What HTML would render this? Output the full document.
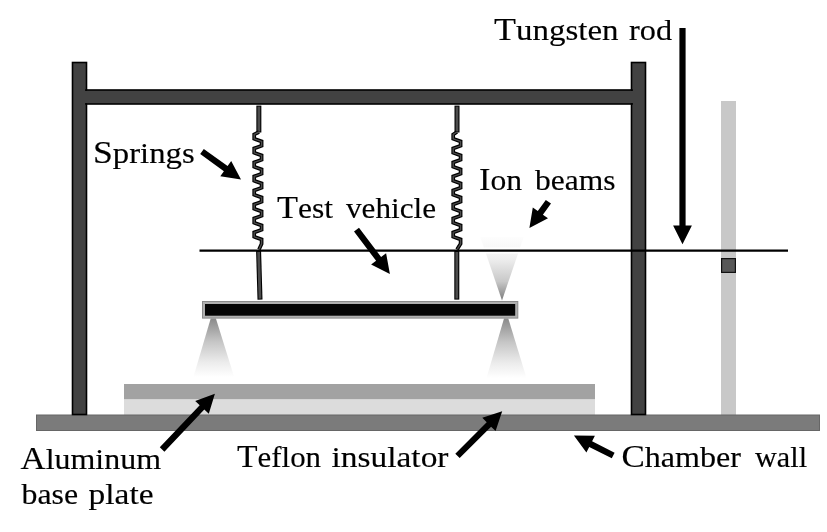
<!DOCTYPE html>
<html><head><meta charset="utf-8"><style>
html,body{margin:0;padding:0;background:#fff;}
svg{display:block;will-change:transform;}
text{font-family:"Liberation Serif",serif;font-size:29.00px;fill:#000;stroke:#000;stroke-width:0.15px;} .u{font-size:31.60px;}
</style></head><body>
<svg width="827" height="532" viewBox="0 0 827 532">
<defs>
<linearGradient id="gd" x1="0" y1="0" x2="0" y2="1">
<stop offset="0" stop-color="#8a8a8a"/><stop offset="0.4" stop-color="#c6c6c6"/><stop offset="0.75" stop-color="#ececec"/><stop offset="1" stop-color="#fff"/>
</linearGradient>
<linearGradient id="gu" x1="0" y1="0" x2="0" y2="1">
<stop offset="0" stop-color="#fdfdfd"/><stop offset="0.2" stop-color="#f7f7f7"/><stop offset="0.35" stop-color="#eeeeee"/><stop offset="0.7" stop-color="#c8c8c8"/><stop offset="1" stop-color="#7c7c7c"/>
</linearGradient>
</defs>
<!-- ion beam cones -->
<polygon points="480.3,237 523.7,237 502,300.5" fill="url(#gu)"/>
<polygon points="210.7,318.5 215.9,318.5 234.2,377 193.4,377" fill="url(#gd)"/>
<polygon points="504,318.5 508.3,318.5 526.5,378 486.5,378" fill="url(#gd)"/>
<!-- light rod -->
<rect x="721" y="101" width="15" height="314" fill="#c8c8c8"/>
<rect x="721.6" y="258.6" width="13.8" height="13.8" fill="#585858" stroke="#111" stroke-width="1.2"/>
<!-- base plates -->
<rect x="124" y="384" width="471" height="15.5" fill="#a2a2a2"/>
<rect x="124" y="399.5" width="471" height="15.5" fill="#dcdcdc"/>
<!-- floor -->
<rect x="36.5" y="415" width="783" height="15.5" fill="#7b7b7b" stroke="#666" stroke-width="1"/>
<!-- frame -->
<rect x="72.5" y="62.5" width="14" height="352" fill="#424242" stroke="#000" stroke-width="1.6"/>
<rect x="631.5" y="62.5" width="14" height="352" fill="#424242" stroke="#000" stroke-width="1.6"/>
<rect x="86" y="90" width="546" height="14" fill="#424242" stroke="#000" stroke-width="1.6"/>
<rect x="84" y="91" width="50" height="12" fill="#424242"/>
<rect x="590" y="91" width="44" height="12" fill="#424242"/>
<!-- spring rods -->
<polygon points="256.35,105.60 256.35,132.50 261.35,132.50 261.35,105.60" fill="#000"/><polygon points="257.45,106.60 257.45,131.50 260.25,131.50 260.25,106.60" fill="#4c4c4c"/>
<polygon points="454.50,105.60 454.50,132.50 459.50,132.50 459.50,105.60" fill="#000"/><polygon points="455.60,106.60 455.60,131.50 458.40,131.50 458.40,106.60" fill="#4c4c4c"/>
<polygon points="256.10,251.07 257.50,299.67 262.50,299.53 261.10,250.93" fill="#000"/><polygon points="257.20,252.04 258.60,298.64 261.40,298.56 260.00,251.96" fill="#4c4c4c"/>
<polygon points="454.30,251.00 454.30,299.60 459.30,299.60 459.30,251.00" fill="#000"/><polygon points="455.40,252.00 455.40,298.60 458.20,298.60 458.20,252.00" fill="#4c4c4c"/>
<g fill="none" stroke-linejoin="miter" stroke-miterlimit="4">
<polyline points="259.00,132.00 254.20,134.40 254.20,138.80 261.60,141.40 261.60,145.80 254.20,148.40 254.20,152.80 261.60,155.40 261.60,159.80 254.20,162.40 254.20,166.80 261.60,169.40 261.60,173.80 254.20,176.40 254.20,180.80 261.60,183.40 261.60,187.80 254.20,190.40 254.20,194.80 261.60,197.40 261.60,201.80 254.20,204.40 254.20,208.80 261.60,211.40 261.60,215.80 254.20,218.40 254.20,222.80 261.60,225.40 261.60,229.80 254.20,232.40 254.20,236.80 261.60,239.40 261.60,243.80 259.00,249.50" stroke="#000" stroke-width="3.7"/>
<polyline points="259.00,132.00 254.20,134.40 254.20,138.80 261.60,141.40 261.60,145.80 254.20,148.40 254.20,152.80 261.60,155.40 261.60,159.80 254.20,162.40 254.20,166.80 261.60,169.40 261.60,173.80 254.20,176.40 254.20,180.80 261.60,183.40 261.60,187.80 254.20,190.40 254.20,194.80 261.60,197.40 261.60,201.80 254.20,204.40 254.20,208.80 261.60,211.40 261.60,215.80 254.20,218.40 254.20,222.80 261.60,225.40 261.60,229.80 254.20,232.40 254.20,236.80 261.60,239.40 261.60,243.80 259.00,249.50" stroke="#4c4c4c" stroke-width="1.4"/>
<polyline points="457.00,132.00 453.20,134.40 453.20,138.80 460.60,141.40 460.60,145.80 453.20,148.40 453.20,152.80 460.60,155.40 460.60,159.80 453.20,162.40 453.20,166.80 460.60,169.40 460.60,173.80 453.20,176.40 453.20,180.80 460.60,183.40 460.60,187.80 453.20,190.40 453.20,194.80 460.60,197.40 460.60,201.80 453.20,204.40 453.20,208.80 460.60,211.40 460.60,215.80 453.20,218.40 453.20,222.80 460.60,225.40 460.60,229.80 453.20,232.40 453.20,236.80 460.60,239.40 460.60,243.80 457.00,249.50" stroke="#000" stroke-width="3.7"/>
<polyline points="457.00,132.00 453.20,134.40 453.20,138.80 460.60,141.40 460.60,145.80 453.20,148.40 453.20,152.80 460.60,155.40 460.60,159.80 453.20,162.40 453.20,166.80 460.60,169.40 460.60,173.80 453.20,176.40 453.20,180.80 460.60,183.40 460.60,187.80 453.20,190.40 453.20,194.80 460.60,197.40 460.60,201.80 453.20,204.40 453.20,208.80 460.60,211.40 460.60,215.80 453.20,218.40 453.20,222.80 460.60,225.40 460.60,229.80 453.20,232.40 453.20,236.80 460.60,239.40 460.60,243.80 457.00,249.50" stroke="#4c4c4c" stroke-width="1.4"/>
</g>
<!-- horizontal line -->
<line x1="470" y1="250.5" x2="540" y2="250.5" stroke="#fff" stroke-width="6"/>
<line x1="199.5" y1="250.6" x2="788" y2="250.6" stroke="#000" stroke-width="2.3"/>
<!-- test vehicle -->
<rect x="202.5" y="301.5" width="315.3" height="16.6" fill="#b0b0b0" stroke="#8a8a8a" stroke-width="1"/>
<rect x="205" y="304" width="310.2" height="11.7" fill="#050505"/>
<!-- arrows -->
<g fill="#000">
<polygon points="200.2,154.1 223.9,171.2 220.3,176.2 241.0,179.6 231.2,161.0 227.6,166.1 203.8,148.9"/>
<polygon points="354.0,231.6 376.1,260.8 371.1,264.6 389.9,273.9 386.1,253.2 381.1,257.0 359.0,227.8"/>
<polygon points="545.8,199.9 537.8,211.0 532.8,207.4 529.4,228.1 548.0,218.3 542.9,214.7 551.0,203.5"/>
<polygon points="679.4,28.0 679.4,225.4 673.1,225.4 682.5,244.2 691.9,225.4 685.6,225.4 685.6,28.0"/>
<polygon points="164.4,451.7 204.3,409.5 208.8,413.8 214.9,393.7 195.2,400.9 199.7,405.2 159.8,447.3"/>
<polygon points="459.7,458.1 491.1,426.7 495.6,431.1 502.2,411.2 482.3,417.8 486.7,422.3 455.3,453.7"/>
<polygon points="614.6,452.7 592.1,441.3 594.9,435.7 573.9,435.6 586.4,452.5 589.2,446.9 611.8,458.3"/>
</g>
<!-- text -->
<text x="494.00" y="39.60" textLength="124.51" lengthAdjust="spacingAndGlyphs"><tspan class="u">T</tspan>ungsten</text>
<text x="629.00" y="39.60" textLength="43.05" lengthAdjust="spacingAndGlyphs">rod</text>
<text x="93.00" y="162.50" textLength="101.62" lengthAdjust="spacingAndGlyphs"><tspan class="u">S</tspan>prings</text>
<text x="277.00" y="217.90" textLength="56.00" lengthAdjust="spacingAndGlyphs"><tspan class="u">T</tspan>est</text>
<text x="346.00" y="217.90" textLength="90.01" lengthAdjust="spacingAndGlyphs">vehicle</text>
<text x="479.00" y="190.00" textLength="43.06" lengthAdjust="spacingAndGlyphs"><tspan class="u">I</tspan>on</text>
<text x="535.00" y="190.00" textLength="80.52" lengthAdjust="spacingAndGlyphs">beams</text>
<text x="20.50" y="469.20" textLength="140.51" lengthAdjust="spacingAndGlyphs"><tspan class="u">A</tspan>luminum</text>
<text x="21.50" y="504.10" textLength="56.54" lengthAdjust="spacingAndGlyphs">base</text>
<text x="88.50" y="504.10" textLength="65.04" lengthAdjust="spacingAndGlyphs">plate</text>
<text x="237.00" y="467.00" textLength="84.02" lengthAdjust="spacingAndGlyphs"><tspan class="u">T</tspan>eflon</text>
<text x="331.50" y="467.00" textLength="117.02" lengthAdjust="spacingAndGlyphs">insulator</text>
<text x="621.50" y="467.00" textLength="119.52" lengthAdjust="spacingAndGlyphs"><tspan class="u">C</tspan>hamber</text>
<text x="755.00" y="467.00" textLength="52.03" lengthAdjust="spacingAndGlyphs">wall</text>
</svg>
</body></html>
